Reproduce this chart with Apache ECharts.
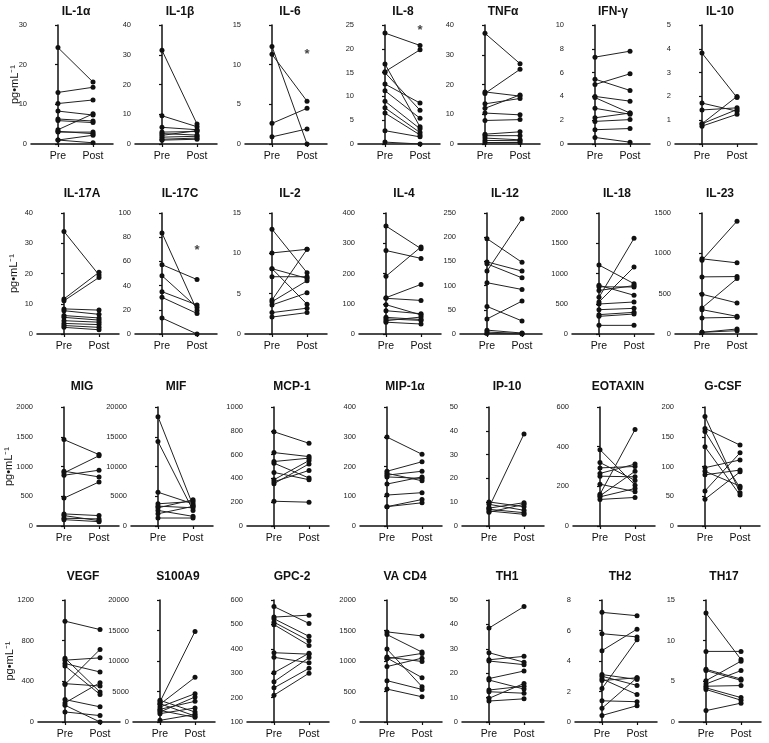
<!DOCTYPE html>
<html><head><meta charset="utf-8">
<script src="https://cdn.jsdelivr.net/npm/echarts@6/dist/echarts.min.js"></script>
<style>html,body{margin:0;padding:0;background:#fff}#c{width:769px;height:743px}</style>
</head><body><div id="c"></div>
<script>
// ---------- tick / category labels ----------
const xLabels = ['Pre', 'Post'];
const unitLabel = 'pg•mL⁻¹';

// ---------- data (Pre / Post pairs) ----------
const il1aPre   = [24.3, 13.0, 10.2, 8.3, 6.3, 5.9, 3.6, 3.2, 3.0, 1.0, 1.0];
const il1aPost  = [15.6, 14.3, 11.1, 7.3, 5.8, 5.4, 7.6, 2.6, 3.0, 2.2, 0.3];
const il1bPre   = [31.5, 9.5, 5.6, 4.0, 3.5, 2.9, 2.3, 1.6, 1.3];
const il1bPost  = [6.7, 5.8, 4.8, 4.2, 3.0, 4.5, 2.6, 2.0, 1.6];
const il6Pre    = [12.3, 11.3, 2.6, 0.9];
const il6Post   = [0, 5.4, 4.5, 1.9];
const il8Pre    = [23.3, 16.8, 15.2, 15.0, 12.6, 11.2, 9.0, 7.6, 6.5, 2.8, 0.4];
const il8Post   = [20.7, 3.6, 19.8, 7.1, 8.6, 5.4, 3.2, 2.4, 1.9, 1.5, 0];
const tnfPre    = [37.2, 17.5, 17.0, 13.5, 12.0, 10.4, 7.9, 3.3, 2.8, 2.0, 1.2, 0.5];
const tnfPost   = [27.0, 16.1, 25.1, 15.3, 16.5, 9.8, 8.2, 4.1, 2.8, 1.4, 1.1, 0.5];
const ifngPre   = [7.3, 5.45, 5.0, 4.0, 3.9, 3.0, 2.2, 1.9, 1.2, 0.55];
const ifngPost  = [7.8, 4.5, 5.9, 3.6, 2.6, 2.5, 2.6, 2.05, 1.3, 0.15];
const il10Pre   = [3.82, 1.72, 1.43, 0.85, 0.85, 0.75];
const il10Post  = [1.95, 1.38, 1.52, 1.45, 2.0, 1.25];

const il17aPre  = [33.9, 11.6, 11.0, 8.3, 7.7, 6.1, 5.5, 4.4, 3.5, 2.8, 2.2];
const il17aPost = [19.5, 20.4, 18.7, 7.9, 6.5, 5.3, 4.6, 3.9, 3.1, 2.2, 1.4];
const il17cPre  = [83.5, 57.3, 48.2, 35.0, 30.3, 13.2];
const il17cPost = [19.5, 45.0, 22.0, 24.0, 17.0, 0];
const il2Pre    = [13.0, 10.05, 8.1, 8.1, 7.1, 4.2, 4.0, 3.6, 2.65, 2.1];
const il2Post   = [7.6, 10.5, 6.9, 3.7, 7.1, 10.5, 6.6, 5.1, 3.2, 2.65];
const il4Pre    = [357, 276, 191, 120, 118, 97, 77, 55, 50, 44, 39];
const il4Post   = [282, 250, 288, 164, 111, 63, 67, 48, 45, 56, 33];
const il12Pre   = [197, 149, 145, 130, 106, 57, 31, 8, 4, 1];
const il12Post  = [148, 130, 116, 238, 92, 27, 68, 2, 1, 0];
const il18Pre   = [1140, 805, 780, 720, 606, 529, 496, 402, 320, 292, 143];
const il18Post  = [832, 640, 777, 800, 1581, 1107, 529, 424, 358, 330, 143];
const il23Pre   = [932, 915, 708, 493, 323, 302, 199, 21, 21];
const il23Post  = [882, 1399, 712, 385, 687, 219, 207, 62, 41];

const migPre    = [1452, 921, 893, 853, 469, 203, 175, 130, 107];
const migPost   = [1200, 825, 1181, 938, 740, 175, 90, 119, 73];
const mifPre    = [18380, 14200, 5680, 3730, 3340, 3060, 2620, 2060, 1340];
const mifPost   = [3450, 2620, 3730, 4120, 3060, 4400, 1620, 3300, 1340];
const mcp1Pre   = [792, 617, 542, 528, 450, 389, 372, 356, 208];
const mcp1Post  = [695, 583, 570, 403, 389, 550, 467, 522, 200];
const mip1aPre  = [299, 184, 177, 171, 165, 141, 104, 65, 65];
const mip1aPost = [241, 216, 152, 184, 160, 165, 112, 89, 78];
const ip10Pre   = [7.8, 10.1, 9.1, 7.5, 7.0, 6.3, 5.8];
const ip10Post  = [38.7, 8.1, 6.6, 9.8, 5.6, 4.9, 9.1];
const eotaxPre  = [385, 320, 293, 265, 251, 211, 160, 152, 147, 134];
const eotaxPost = [206, 230, 300, 312, 248, 173, 486, 276, 189, 144];
const gcsfPre   = [184, 164, 159, 133, 98, 92, 86, 59, 45];
const gcsfPost  = [56, 136, 64, 52, 111, 67, 94, 123, 91];

const vegfPre   = [992, 628, 608, 575, 552, 377, 370, 221, 188, 165, 99];
const vegfPost  = [909, 294, 631, 492, 271, 354, 714, 149, 387, 0, 63];
const s100Pre   = [3300, 2900, 2460, 2080, 1640, 3550, 1370, 270, 3000, 1900];
const s100Post  = [14850, 7320, 4640, 3390, 4100, 1640, 2300, 1260, 980, 765];
const gpc2Pre   = [573, 530, 523, 509, 499, 384, 365, 302, 265, 240, 210];
const gpc2Post  = [504, 538, 451, 433, 414, 378, 343, 382, 364, 320, 300];
const vacd4Pre  = [1477, 1433, 1196, 1064, 1050, 1036, 909, 678, 540];
const vacd4Post = [1411, 1146, 579, 992, 727, 1124, 1047, 534, 413];
const th1Pre    = [38.5, 28.4, 25.5, 25.0, 17.8, 17.2, 13.1, 12.4, 9.7, 8.6];
const th1Post   = [47.3, 24.5, 26.9, 23.5, 20.9, 13.5, 14.7, 11.8, 15.8, 9.5];
const th2Pre    = [7.19, 5.79, 4.68, 3.11, 3.0, 2.83, 2.72, 2.19, 1.39, 0.90, 0.43];
const th2Post   = [6.97, 5.58, 6.09, 2.79, 2.4, 1.80, 2.90, 5.40, 1.33, 2.90, 1.07];
const th17Pre   = [13.4, 8.68, 6.48, 6.32, 5.08, 4.68, 4.4, 4.2, 4.0, 1.4];
const th17Post  = [7.68, 8.68, 5.28, 5.12, 7.48, 6.32, 4.48, 3.0, 2.68, 2.32];

// ---------- panel definitions (title, data, y-axis range) ----------
const titles = ['IL-1α','IL-1β','IL-6','IL-8','TNFα','IFN-γ','IL-10',
  'IL-17A','IL-17C','IL-2','IL-4','IL-12','IL-18','IL-23',
  'MIG','MIF','MCP-1','MIP-1α','IP-10','EOTAXIN','G-CSF',
  'VEGF','S100A9','GPC-2','VA CD4','TH1','TH2','TH17'];
const preData = [il1aPre, il1bPre, il6Pre, il8Pre, tnfPre, ifngPre, il10Pre,
  il17aPre, il17cPre, il2Pre, il4Pre, il12Pre, il18Pre, il23Pre,
  migPre, mifPre, mcp1Pre, mip1aPre, ip10Pre, eotaxPre, gcsfPre,
  vegfPre, s100Pre, gpc2Pre, vacd4Pre, th1Pre, th2Pre, th17Pre];
const postData = [il1aPost, il1bPost, il6Post, il8Post, tnfPost, ifngPost, il10Post,
  il17aPost, il17cPost, il2Post, il4Post, il12Post, il18Post, il23Post,
  migPost, mifPost, mcp1Post, mip1aPost, ip10Post, eotaxPost, gcsfPost,
  vegfPost, s100Post, gpc2Post, vacd4Post, th1Post, th2Post, th17Post];
const yMin = [0,0,0,0,0,0,0, 0,0,0,0,0,0,0, 0,0,0,0,0,0,0, 0,0,100,0,0,0,0];
const yMax = [30,40,15,25,40,10,5, 40,100,15,400,250,2000,1500,
  2000,20000,1000,400,50,600,200, 1200,20000,600,2000,50,8,15];
const yStep = [10,10,5,5,10,2,1, 10,20,5,100,50,500,500,
  500,5000,200,100,10,200,50, 400,5000,100,500,10,2,5];
// significance markers (panel title -> value where the asterisk sits)
const starPanels = ['IL-6', 'IL-8', 'IL-17C'];
const starValues = [11.3, 23.8, 69];

// ---------- layout ----------
const rowTop = [25, 213, 407, 600];
const rowH = [119, 121, 119, 122];
const titleTop = [6, 188, 381, 571];
const nameGaps = [11, 18, 23, 23];
const colLeft = [
  [31, 135, 245, 358, 458, 568, 675],
  [37, 135, 245, 359, 460, 572, 675],
  [37, 131, 247, 360, 462, 573, 678],
  [38, 133, 247, 360, 462, 575, 679]];
const plotW = 82;
const FONT = '"Liberation Sans", Arial, sans-serif';
const INK = '#111';

const grid = [], xAxis = [], yAxis = [], series = [], title = [];
titles.forEach((t, i) => {
  const r = Math.floor(i / 7), c = i % 7;
  const left = colLeft[r][c];
  grid.push({ left: left, top: rowTop[r], width: plotW, height: rowH[r] });
  xAxis.push({
    type: 'value', gridIndex: i, min: -0.77, max: 1.57,
    axisLine: { onZero: false, lineStyle: { color: INK, width: 1.5 } },
    axisTick: { show: true, customValues: [0, 1], length: 3, lineStyle: { color: INK, width: 1.2 } },
    axisLabel: { customValues: [0, 1], formatter: v => xLabels[Math.round(v)],
      color: INK, fontSize: 10.5, fontFamily: FONT, margin: 7 },
    splitLine: { show: false }
  });
  yAxis.push({
    type: 'value', gridIndex: i, min: yMin[i], max: yMax[i], interval: yStep[i],
    name: c === 0 ? unitLabel : '', nameLocation: 'middle', nameRotate: 90, nameGap: nameGaps[r],
    nameMoveOverlap: false,
    nameTextStyle: { color: INK, fontSize: 11, fontFamily: FONT },
    axisLine: { show: true, lineStyle: { color: INK, width: 1.5 } },
    axisTick: { show: true, length: 3, lineStyle: { color: INK, width: 1.2 } },
    axisLabel: { color: '#222', fontSize: 7.5, fontFamily: FONT, margin: 4, formatter: v => String(v) },
    splitLine: { show: false }
  });
  title.push({
    text: t, left: left + 45, top: titleTop[r], textAlign: 'center', padding: 0,
    textStyle: { fontSize: 12, fontWeight: 'bold', color: INK, fontFamily: FONT }
  });
  preData[i].forEach((v, k) => {
    series.push({
      type: 'line', xAxisIndex: i, yAxisIndex: i,
      data: [[0, v], [1, postData[i][k]]],
      symbol: 'circle', symbolSize: 5, showSymbol: true,
      itemStyle: { color: INK }, lineStyle: { color: '#222', width: 1 },
      silent: true, z: 3
    });
  });
  const s = starPanels.indexOf(t);
  if (s >= 0) {
    series.push({
      type: 'scatter', xAxisIndex: i, yAxisIndex: i,
      data: [[1, starValues[s]]], symbolSize: 0,
      label: { show: true, formatter: '*', position: 'inside', fontSize: 13,
        fontWeight: 'bold', color: INK, fontFamily: FONT }
    });
  }
});

const chart = echarts.init(document.getElementById('c'), null, { renderer: 'canvas' });
chart.setOption({ animation: false, backgroundColor: '#fff', title, grid, xAxis, yAxis, series });
</script>
</body></html>
